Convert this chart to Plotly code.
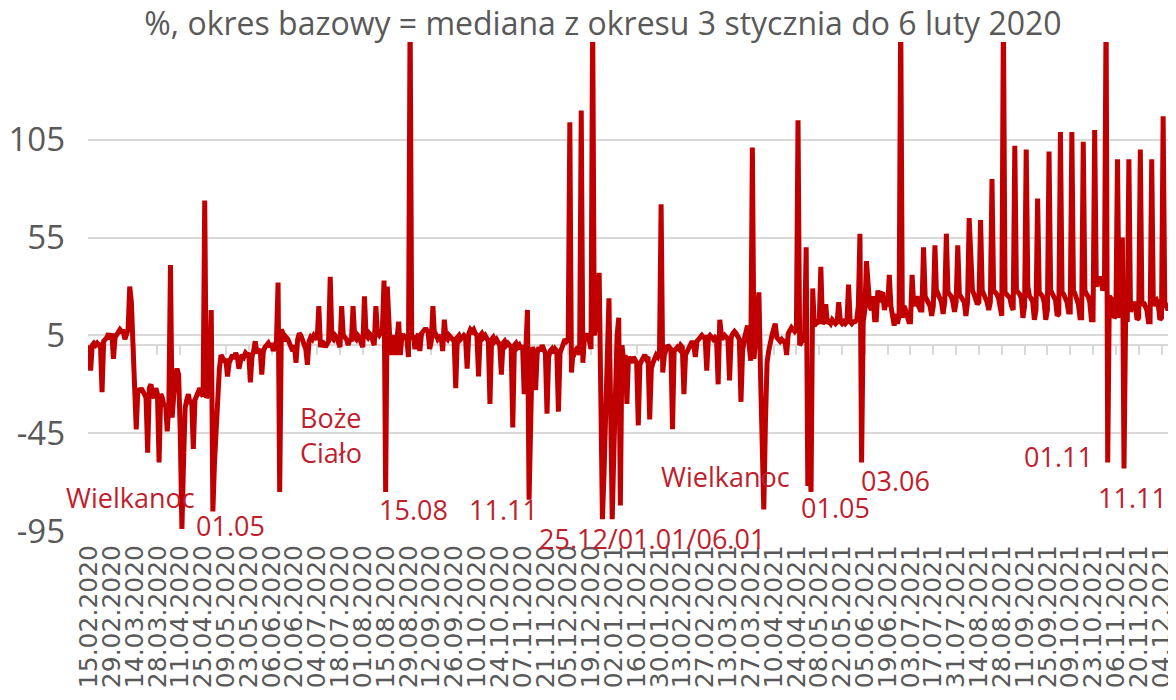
import pandas as pd
import plotly.graph_objects as go

# daily values, weeks run Saturday..Sunday..Friday, first day 15.02.2020
start_date = '2020-02-15'

vals_2020_a = [
    0, -13, 0, 1, 0, 1, 0,
    1, -24, 2, 3, 4, 6, 3,
    6, -7, 4, 5, 7, 8, 7,
    7, 3, 6, 8, 30, 22, 0,
    -22, -43, -22, -24, -22, -23, -25,
    -27, -55, -22, -20, -25, -27, -22,
    -25, -60, -25, -27, -31, -30, -44,
    -30, 41, -37, -20, -15, -12, -15,
    -45, -94, -60, -32, -28, -25, -30,
    -28, -53, -28, -26, -24, -22, -25,
    -26, 74, -27, -25, -15, 18, -85,
    -60, -43, -17, -12, -5, -6, -8,
    -8, -16, -9, -6, -5, -7, -4,
]
vals_2020_b = [
    -6, -12, -8, -5, -6, -4, -5,
    -4, -19, -6, -3, 2, -4, -3,
    -2, -15, -3, -1, 0, 1, -1,
    1, -3, 0, 2, 32, -75, 8,
    6, 2, 4, 3, 1, 0, -3,
    0, -9, 3, 6, 5, 2, 1,
    -2, -10, 2, 4, 3, 5, 4,
    3, 20, -1, 2, 1, -1, 1,
    2, 35, 4, 3, 5, 4, 2,
    -1, 20, 5, 4, 3, 0, 3,
    2, 20, 4, 3, 5, 4, 1,
    -1, 25, 5, 4, 6, 5, 3,
    0, 20, 6, 5, 7, 8, 33,
]
vals_2020_c = [
    -75, 30, 10, -5, 3, 5, -5,
    3, 12, -5, 5, 5, 4, 3,
    -6, 170, 3, 5, -2, 4, 6,
    -3, 6, 7, 8, 8, 7, -2,
    2, 20, 4, 5, 3, 4, 5,
    -3, 13, 4, 3, 5, 4, 3,
    3, -22, 4, 5, 3, 4, 5,
    4, -12, 6, 8, 7, 8, 6,
    5, -16, 5, 6, 4, 5, 3,
    2, -30, 3, 4, 2, 3, 1,
    0, -15, 1, 2, 0, 1, 0,
    -1, -42, 0, 1, -1, 0, -2,
    0, -25, -3, 18, -79, -23, -1,
]
vals_2020_d = [
    -3, -23, -4, -1, -3, 0, -2,
    -4, -35, -6, -3, -2, -4, -2,
    -3, -34, -4, -2, 1, 3, 2,
    3, 114, -14, -3, -4, -2, -1,
    -5, 120, -9, 5, 3, 6, 2,
    -2, 170, 5, 10, 30, 37, -25,
    -89, -65, -35, -5, 24, -30, -89,
    -55, -20, 5, 14, -82, 0, -8,
    -5, -30, -6, -8, -9, -6, -8,
    -9, -41, -10, -8, -6, -5, -7,
    -6, -38, -12, -9, -7, -5, -6,
    -4, 72, -14, -5, -2, 0, -1,
    -2, -43, -3, -2, -1, -2, 0,
]
vals_2021_a = [
    -1, -25, -5, -3, -1, 1, 2,
    0, -6, 2, 3, 4, 5, 4,
    4, -13, 4, 5, 4, 3, 4,
    3, -20, 13, 5, 4, 5, 4,
    3, -18, 4, 6, 7, 6, 5,
    3, -29, -3, 3, 8, 10, 0,
    -8, 101, -7, 3, 15, 27, -15,
    -45, -84, -40, -9, -3, 2, 5,
    8, 11, 4, 3, 2, 3, 2,
    2, -5, 6, 8, 9, 8, 7,
    8, 115, 0, 1, 3, 5, 50,
    -72, -60, -75, 29, 10, 11, 12,
    11, 40, 11, 12, 21, 11, 12,
]
vals_2021_b = [
    11, 13, 12, 11, 12, 22, 12,
    11, 12, 11, 12, 31, 12, 11,
    12, 12, 13, 20, 57, -60, 12,
    18, 43, 28, 20, 18, 25, 13,
    13, 28, 22, 26, 27, 18, 22,
    20, 36, 20, 15, 10, 16, 11,
    15, 170, 14, 20, 18, 15, 12,
    12, 36, 20, 22, 25, 20, 18,
    18, 50, 25, 23, 22, 20, 15,
    20, 51, 25, 26, 24, 22, 16,
    22, 57, 27, 26, 25, 22, 17,
    22, 51, 26, 25, 24, 22, 15,
    22, 65, 35, 28, 26, 24, 21,
]
vals_2021_c = [
    22, 64, 28, 26, 25, 22, 18,
    22, 85, 28, 27, 26, 24, 20,
    15, 170, 27, 26, 25, 24, 20,
    18, 102, 28, 27, 26, 24, 14,
    20, 100, 30, 25, 24, 22, 13,
    18, 75, 27, 26, 25, 22, 13,
    18, 99, 28, 26, 25, 23, 15,
    16, 109, 27, 26, 24, 22, 17,
    17, 109, 28, 26, 24, 21, 14,
    14, 104, 28, 26, 25, 22, 13,
    13, 110, 30, 33, 35, 32, 28,
    30, 170, -60, 25, 24, 20, 14,
    15, 95, 14, 20, 55, -63, 14,
]
vals_2021_d = [
    12, 95, 17, 20, 22, 20, 13,
    14, 100, 20, 22, 20, 18, 12,
    12, 95, 20, 22, 23, 21, 13,
    14, 117, 22, 20, 18, 20, 15,
    15,
]

values = (vals_2020_a + vals_2020_b + vals_2020_c + vals_2020_d
          + vals_2021_a + vals_2021_b + vals_2021_c + vals_2021_d)
dates = pd.date_range(start_date, periods=len(values), freq='D')

tick_dates = pd.date_range('2020-02-15', '2021-12-04', freq='14D')
tick_text = [d.strftime('%d.%m.%Y') for d in tick_dates]
y_ticks = [-95, -45, 5, 55, 105]
y_text = [str(v) for v in y_ticks]  # plain hyphen like the original

# holiday labels: text, date, y, yref, anchor
notes = [
    ('Wielkanoc', '2020-03-11 05:00', -78, 'y', 'center'),
    ('01.05', '2020-05-12 02:00', -92, 'y', 'center'),
    ('Boże<br>Ciało', '2020-06-22 03:00', -46, 'y', 'left'),
    ('15.08', '2020-08-31 19:00', -84, 'y', 'center'),
    ('11.11', '2020-10-26 00:00', -84, 'y', 'center'),
    ('25.12/01.01/06.01', '2021-01-25 14:00', -0.016, 'paper', 'center'),
    ('Wielkanoc', '2021-03-11 19:00', -67, 'y', 'center'),
    ('01.05', '2021-05-17 17:00', -83, 'y', 'center'),
    ('03.06', '2021-06-23 12:00', -69, 'y', 'center'),
    ('01.11', '2021-10-01 12:00', -57, 'y', 'center'),
    ('11.11', '2021-11-16 12:00', -78, 'y', 'center'),
]

x_range = ['2020-02-14 09:20', '2021-12-12 21:30']
grey = '#595959'
red = '#C00000'

fig = go.Figure()

# empty trace so the zero-level axis with tick marks is drawn
fig.add_trace(go.Scatter(x=[dates[0]], y=[None], xaxis='x2', yaxis='y',
                         showlegend=False, hoverinfo='skip'))

fig.add_trace(go.Scatter(x=dates, y=values, mode='lines',
                         line=dict(color=red, width=5),
                         showlegend=False))

for text, d, y, yref, anchor in notes:
    fig.add_annotation(x=d, y=y, yref=yref, text=text, showarrow=False,
                       xanchor=anchor, yanchor='middle', align='left',
                       font=dict(family='Open Sans', size=27, color='#BE1E2D'))

# the page body adds an 8px offset, so the figure is 8px smaller each way
fig.update_layout(
    width=1168, height=692,
    paper_bgcolor='white', plot_bgcolor='white',
    margin=dict(l=80, r=0, t=34, b=169),
    title=dict(text='%, okres bazowy = mediana z okresu 3 stycznia do 6 luty 2020',
               xref='container', x=0.5094, y=0.977, xanchor='center', yanchor='middle',
               font=dict(family='Open Sans', size=32, color=grey)),
    xaxis=dict(type='date', range=x_range, tickvals=tick_dates, ticktext=tick_text,
               tickangle=-90, ticks='', showline=False, showgrid=False, zeroline=False,
               ticklabelstandoff=8, automargin=False,
               tickfont=dict(family='DejaVu Sans', size=25, color=grey)),
    xaxis2=dict(type='date', range=x_range, overlaying='x', anchor='free', position=0.38,
                tickvals=tick_dates, ticks='outside', ticklen=9, tickwidth=1.5,
                tickcolor='#D9D9D9', showline=True, linecolor='#D9D9D9', linewidth=1.5,
                showgrid=False, showticklabels=False, zeroline=False, layer='below traces'),
    yaxis=dict(range=[-95, 155], tickvals=y_ticks, ticktext=y_text, showgrid=True,
               gridcolor='#D9D9D9', gridwidth=1.5, zeroline=False, showline=False,
               ticks='', ticklabelstandoff=22, automargin=False,
               tickfont=dict(family='Open Sans', size=33, color=grey)),
)

fig.write_html('out.html')
